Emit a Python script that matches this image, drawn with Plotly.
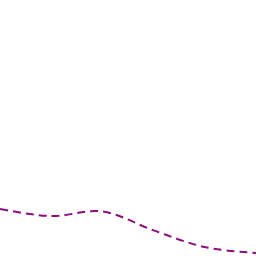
import plotly.graph_objects as go

x_vals = [0, 1, 2, 3, 4, 5]
y_vals = [18.4, 15.6, 17.4, 10.0, 3.5, 1.2]

fig = go.Figure(go.Scatter(
    x=x_vals, y=y_vals, mode="lines",
    line=dict(color="#8a0f7c", width=2, dash="8px,5px", shape="spline", smoothing=1.0),
    hoverinfo="skip"))
fig.update_layout(
    width=256, height=256, margin=dict(l=0, r=0, t=0, b=0),
    paper_bgcolor="white", plot_bgcolor="white", showlegend=False,
    xaxis=dict(range=[0, 5], visible=False),
    yaxis=dict(range=[0, 100], visible=False))
fig.write_html("out.html")
